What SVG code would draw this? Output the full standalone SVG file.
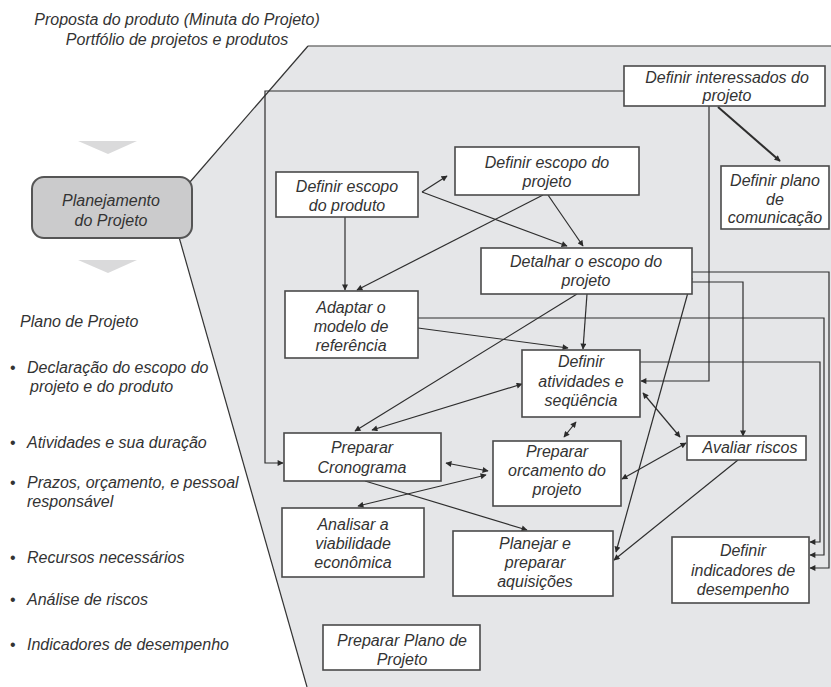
<svg xmlns="http://www.w3.org/2000/svg" width="831" height="687" viewBox="0 0 831 687">
  <defs>
    <marker id="ah" viewBox="0 0 10 10" refX="9" refY="5" markerWidth="7" markerHeight="6" markerUnits="userSpaceOnUse" orient="auto-start-reverse">
      <path d="M0,0 L10,5 L0,10 z" fill="#2b2b2b"/>
    </marker>
    <style>
      text { font-family: "Liberation Sans", Arial, sans-serif; font-style: italic; font-size: 16px; fill: #333; }
      .c { text-anchor: middle; }
      .box { fill: #fff; stroke: #4a4a4a; stroke-width: 1.6; }
      .ln { fill: none; stroke: #2e2e2e; stroke-width: 1.2; }
      .one { marker-end: url(#ah); }
      .two { marker-start: url(#ah); marker-end: url(#ah); }
      .chev { fill: #dadadb; }
    </style>
  </defs>

  <!-- shaded expansion of the planning phase -->
  <polygon points="308,46 831,46 831,687 307,687 179,237 191,182" fill="#e5e6e8"/>
  <line x1="308" y1="46" x2="831" y2="46" stroke="#777" stroke-width="1.5"/>
  <line x1="308" y1="46" x2="190" y2="182" stroke="#333" stroke-width="1.2"/>
  <line x1="179" y1="237" x2="307" y2="687" stroke="#333" stroke-width="1.2"/>

  <!-- inputs -->
  <text x="177" y="25" class="c">Proposta do produto (Minuta do Projeto)</text>
  <text x="177" y="45" class="c">Portfólio de projetos e produtos</text>

  <polygon class="chev" points="78,141 137,141 108,154"/>
  <polygon class="chev" points="78,260 137,260 108,273"/>

  <g id="planejamento">
    <rect x="32" y="177" width="160" height="61" rx="12" fill="#cbcbcc" stroke="#555" stroke-width="2"/>
    <text x="111" y="206" class="c">Planejamento</text>
    <text x="111" y="226" class="c">do Projeto</text>
  </g>

  <!-- outputs -->
  <g id="plano-lista">
    <text x="20" y="327">Plano de Projeto</text>
    <text x="10" y="373" style="font-style:normal">•</text>
    <text x="27" y="373">Declaração do escopo do</text>
    <text x="30" y="392">projeto e do produto</text>
    <text x="10" y="448" style="font-style:normal">•</text>
    <text x="27" y="448">Atividades e sua duração</text>
    <text x="10" y="488" style="font-style:normal">•</text>
    <text x="27" y="488">Prazos, orçamento, e pessoal</text>
    <text x="27" y="507">responsável</text>
    <text x="10" y="563" style="font-style:normal">•</text>
    <text x="27" y="563">Recursos necessários</text>
    <text x="10" y="605" style="font-style:normal">•</text>
    <text x="27" y="605">Análise de riscos</text>
    <text x="10" y="650" style="font-style:normal">•</text>
    <text x="27" y="650">Indicadores de desempenho</text>
  </g>

  <!-- connectors -->
  <g id="connectors">
    <polyline class="ln one" points="624,91 265,91 265,463 283,463"/>
    <polyline class="ln one" points="709,106 709,381 641,381"/>
    <line class="ln one" x1="718" y1="107" x2="780" y2="161" style="stroke-width:2"/>
    <line class="ln one" x1="422" y1="192" x2="447" y2="176"/>
    <line class="ln one" x1="422" y1="192" x2="567" y2="246"/>
    <line class="ln one" x1="543" y1="195" x2="357" y2="290"/>
    <line class="ln one" x1="548" y1="195" x2="583" y2="246"/>
    <line class="ln one" x1="345" y1="217" x2="345" y2="290"/>
    <polyline class="ln one" points="692,272 829,272 829,568 810,568"/>
    <polyline class="ln one" points="418,318 824,318 824,555 810,555"/>
    <polyline class="ln one" points="640,362 820,362 820,542 810,542"/>
    <line class="ln one" x1="418" y1="328" x2="568" y2="348"/>
    <line class="ln one" x1="587" y1="294" x2="583" y2="349"/>
    <line class="ln one" x1="577" y1="294" x2="355" y2="431"/>
    <line class="ln two" x1="522" y1="384" x2="372" y2="430"/>
    <line class="ln two" x1="576" y1="422" x2="564" y2="437"/>
    <line class="ln two" x1="643" y1="393" x2="680" y2="437"/>
    <line class="ln two" x1="686" y1="443" x2="622" y2="479"/>
    <line class="ln one" x1="738" y1="460" x2="614" y2="560"/>
    <line class="ln one" x1="692" y1="278" x2="616" y2="552"/>
    <polyline class="ln one" points="692,282 743,282 743,436"/>
    <line class="ln two" x1="446" y1="463" x2="488" y2="471"/>
    <line class="ln two" x1="486" y1="475" x2="358" y2="506"/>
    <line class="ln one" x1="365" y1="481" x2="527" y2="530"/>
  </g>

  <g id="definir-interessados">
    <rect class="box" x="624" y="66" width="201" height="40"/>
    <text x="727" y="83" class="c">Definir interessados do</text>
    <text x="727" y="101" class="c">projeto</text>
  </g>
  <g id="definir-comunicacao">
    <rect class="box" x="721" y="166" width="108" height="63"/>
    <text x="775" y="186" class="c">Definir plano</text>
    <text x="775" y="205" class="c">de</text>
    <text x="775" y="223" class="c">comunicação</text>
  </g>
  <g id="definir-escopo-projeto">
    <rect class="box" x="455" y="147" width="184" height="48"/>
    <text x="547" y="168" class="c">Definir escopo do</text>
    <text x="547" y="187" class="c">projeto</text>
  </g>
  <g id="definir-escopo-produto">
    <rect class="box" x="276" y="172" width="142" height="45"/>
    <text x="347" y="192" class="c">Definir escopo</text>
    <text x="347" y="211" class="c">do produto</text>
  </g>
  <g id="adaptar-modelo">
    <rect class="box" x="285" y="291" width="133" height="67"/>
    <text x="351" y="313" class="c">Adaptar o</text>
    <text x="351" y="332" class="c">modelo de</text>
    <text x="351" y="351" class="c">referência</text>
  </g>
  <g id="detalhar-escopo">
    <rect class="box" x="481" y="248" width="211" height="46"/>
    <text x="586" y="267" class="c">Detalhar o escopo do</text>
    <text x="586" y="286" class="c">projeto</text>
  </g>
  <g id="definir-atividades">
    <rect class="box" x="522" y="350" width="118" height="67"/>
    <text x="581" y="367" class="c">Definir</text>
    <text x="581" y="387" class="c">atividades e</text>
    <text x="581" y="406" class="c">seqüência</text>
  </g>
  <g id="avaliar-riscos">
    <rect class="box" x="687" y="436" width="119" height="24"/>
    <text x="750" y="453" class="c">Avaliar riscos</text>
  </g>
  <g id="preparar-orcamento">
    <rect class="box" x="493" y="441" width="128" height="65"/>
    <text x="557" y="457" class="c">Preparar</text>
    <text x="557" y="476" class="c">orcamento do</text>
    <text x="557" y="495" class="c">projeto</text>
  </g>
  <g id="preparar-cronograma">
    <rect class="box" x="284" y="433" width="157" height="48"/>
    <text x="362" y="453" class="c">Preparar</text>
    <text x="362" y="473" class="c">Cronograma</text>
  </g>
  <g id="analisar-viabilidade">
    <rect class="box" x="282" y="508" width="142" height="69"/>
    <text x="353" y="530" class="c">Analisar a</text>
    <text x="353" y="549" class="c">viabilidade</text>
    <text x="353" y="568" class="c">econômica</text>
  </g>
  <g id="planejar-aquisicoes">
    <rect class="box" x="453" y="531" width="160" height="65"/>
    <text x="535" y="549" class="c">Planejar e</text>
    <text x="535" y="568" class="c">preparar</text>
    <text x="535" y="587" class="c">aquisições</text>
  </g>
  <g id="preparar-plano">
    <rect class="box" x="323" y="625" width="157" height="45"/>
    <text x="402" y="646" class="c">Preparar Plano de</text>
    <text x="402" y="665" class="c">Projeto</text>
  </g>
  <g id="definir-indicadores">
    <rect class="box" x="672" y="537" width="137" height="66"/>
    <text x="743" y="556" class="c">Definir</text>
    <text x="743" y="576" class="c">indicadores de</text>
    <text x="743" y="595" class="c">desempenho</text>
  </g>
</svg>
